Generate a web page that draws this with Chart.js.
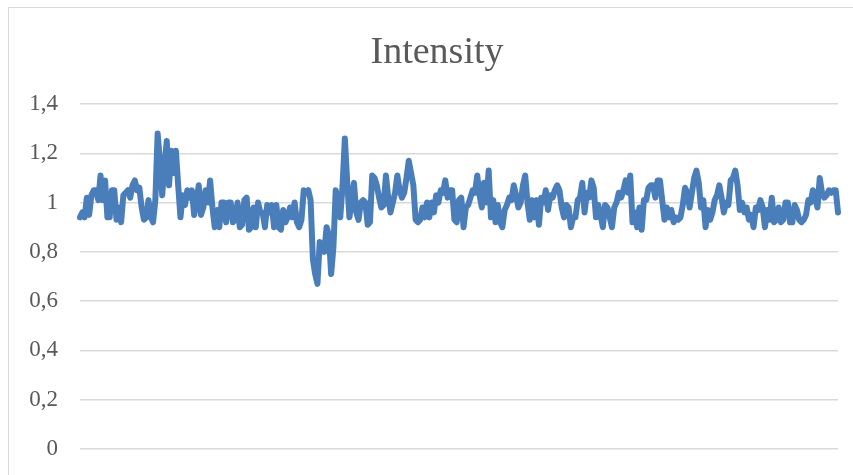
<!DOCTYPE html>
<html>
<head>
<meta charset="utf-8">
<script src="https://cdn.jsdelivr.net/npm/chart.js@4/dist/chart.umd.min.js"></script>
<style>
  html, body { margin: 0; padding: 0; background: #fff; overflow: hidden; }
  canvas { display: block; }
</style>
</head>
<body>
<canvas id="intensityChart" width="853" height="475"></canvas>
<script>
const chartTitle = "Intensity";
const yTicks = [0, 0.2, 0.4, 0.6, 0.8, 1, 1.2, 1.4];

const intensity = [
  0.94, 0.96, 0.94, 1.02, 0.95, 1.03, 1.05, 1.05, 1.01, 1.11, 1.01, 1.09, 0.94, 0.94, 1.05, 1.05,
  0.93, 0.98, 0.92, 1.03, 1.04, 1.05, 1.02, 1.07, 1.09, 1.05, 1.06, 0.98, 0.93, 0.94, 1.01, 0.94,
  0.92, 1.01, 1.28, 1.17, 1.03, 1.15, 1.25, 1.07, 1.21, 1.12, 1.21, 1.07, 0.94, 1.03, 0.99,
  1.05, 1.02, 1.05, 0.95, 1.0, 1.07, 0.95, 0.98, 1.05, 1.0, 1.09, 0.98, 0.9, 0.97, 0.9, 1.0,
  1.0, 0.92, 1.0, 1.0, 0.92, 0.93, 1.0, 0.9, 0.91, 1.01, 1.02, 0.89, 0.9, 0.98, 0.9, 1.0,
  0.96, 0.96, 0.9, 0.99, 0.96, 0.99, 0.9, 0.99, 0.9, 0.89, 0.97, 0.92, 0.94, 0.98, 0.94,
  1.0, 0.92, 0.9, 0.93, 1.05, 1.04, 1.05, 1.01, 0.77, 0.71, 0.67, 0.84, 0.82, 0.8, 0.9, 0.87,
  0.71, 0.82, 1.05, 1.01, 0.94, 1.07, 1.26, 1.09, 0.94, 1.01, 1.08, 0.96, 0.93, 1.0, 1.01, 1.0,
  0.91, 0.92, 1.11, 1.1, 1.07, 1.02, 0.98, 0.99, 1.11, 1.02, 0.96, 1.0, 1.04, 1.11, 1.05, 1.02,
  1.04, 1.1, 1.17, 1.12, 1.07, 0.93, 0.92,
  0.93, 0.98, 0.94, 1.0, 0.94, 1.0, 0.96, 1.03, 1.0, 1.05, 1.04, 1.09, 1.02, 1.05, 1.05, 0.93,
  0.92, 1.01, 1.02, 0.9, 0.98, 0.99, 1.02, 1.05, 1.04, 1.11, 1.03, 0.98, 1.08, 1.0, 1.13, 0.94,
  1.01, 0.92, 0.99, 0.92, 0.9, 0.97, 0.99, 1.02, 1.01, 1.07, 1.03, 0.98, 1.0, 1.07, 1.11, 1.0,
  0.93, 1.01, 0.94, 1.01, 0.91, 1.02,
  1.0, 1.05, 0.97, 1.03, 1.02, 1.05, 1.07, 1.05, 0.98, 0.94, 0.99, 0.98, 0.9, 0.94, 0.94, 1.01,
  1.02, 1.08, 0.96, 1.04, 1.02, 1.09, 1.06, 0.94, 0.99, 0.95, 0.9, 0.99, 0.98, 0.94, 0.9, 0.98,
  1.0, 1.04, 1.02, 1.05, 1.09, 1.04, 1.11, 0.92, 0.96, 0.9, 0.98, 0.89, 1.01, 1.01, 1.06, 1.07,
  1.07, 1.02, 1.09, 1.09,
  1.01, 0.93, 0.98, 0.94, 0.97, 0.92, 0.94, 0.93, 0.94, 0.99, 1.06, 1.04, 0.98, 1.04, 1.1, 1.13,
  1.08, 0.98, 1.01, 0.9, 0.97, 0.93, 0.96, 1.01, 1.03, 1.07, 1.02, 0.96, 1.0, 0.99, 1.09, 1.1,
  1.13, 1.07, 0.97, 1.0, 0.96, 0.98, 0.93, 0.95, 0.9, 0.98, 0.97, 1.01, 0.98, 0.9, 0.97, 0.93, 1.02,
  0.92, 0.93, 0.98, 0.92, 0.93, 1.0, 1.0, 0.92, 0.92, 0.99, 0.97, 0.93, 0.92, 0.93, 0.95, 1.01,
  1.0, 1.05, 1.02, 0.98, 1.1, 1.04, 1.02, 1.03, 1.05, 1.04, 1.05, 1.05, 0.96
];

const xLabels = intensity.map((v, i) => i + 1);

// grey outline of the chart object + title centred on the (wider) chart object
const chartFrame = {
  id: "chartFrame",
  beforeDraw(chart) {
    const c = chart.ctx;
    c.save();
    c.strokeStyle = "#d9d9d9";
    c.lineWidth = 1;
    c.strokeRect(8.5, 7.5, 1000, 1000);
    c.fillStyle = "#595959";
    c.font = "38px 'Liberation Serif', serif";
    c.textAlign = "center";
    c.textBaseline = "alphabetic";
    c.fillText(chartTitle, 437, 63);
    c.restore();
  }
};

const ctx = document.getElementById("intensityChart").getContext("2d");
new Chart(ctx, {
  type: "line",
  data: {
    labels: xLabels,
    datasets: [{
      label: chartTitle,
      data: intensity,
      borderColor: "#4a7ebb",
      borderWidth: 6,
      borderJoinStyle: "round",
      borderCapStyle: "round",
      pointRadius: 0,
      fill: false,
      tension: 0
    }]
  },
  options: {
    responsive: false,
    animation: false,
    layout: {
      padding: { left: 8, right: 15, top: 104, bottom: 26 }
    },
    plugins: {
      legend: { display: false },
      tooltip: { enabled: false },
      title: { display: false }
    },
    scales: {
      x: {
        display: false
      },
      y: {
        min: 0,
        max: 1.4,
        afterFit(scale) {
          scale.width = 72;
          scale.paddingTop = 0;
          scale.paddingBottom = 0;
        },
        afterBuildTicks(scale) { scale.ticks = yTicks.map(v => ({ value: v })); },
        border: { display: false },
        grid: { color: "#d9d9d9", lineWidth: 1.5, drawTicks: false },
        ticks: {
          color: "#595959",
          padding: 22,
          font: { family: "'Liberation Serif', serif", size: 23 },
          callback: v => String(Math.round(v * 10) / 10).replace(".", ",")
        }
      }
    }
  },
  plugins: [chartFrame]
});
</script>
</body>
</html>
